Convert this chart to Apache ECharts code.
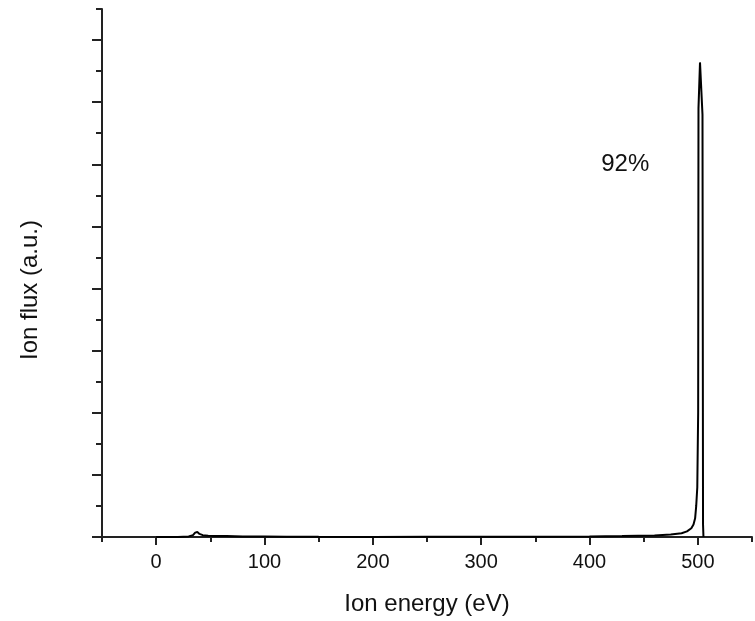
<!DOCTYPE html>
<html>
<head>
<meta charset="utf-8">
<script src="https://cdn.jsdelivr.net/npm/echarts@6/dist/echarts.min.js"></script>
<style>
  html, body { margin: 0; padding: 0; background: #fff; }
  #chart { width: 755px; height: 621px; }
</style>
</head>
<body>
<div id="chart"></div>
<script>
// Ion energy distribution measured at the substrate (energy in eV, flux in a.u.)
const energy = [0, 10, 20, 30, 34, 36, 38, 40, 43, 48, 55, 65, 80, 100, 120, 150, 200, 250, 300, 350, 400, 430, 460, 475, 485, 490, 494, 496, 497.5, 498.5, 499.5, 500.3, 500.6, 502, 504.3, 504.6, 504.8, 505.2];
const flux   = [0, 0, 0, 0.01, 0.03, 0.07, 0.08, 0.05, 0.03, 0.02, 0.015, 0.015, 0.01, 0.008, 0.005, 0.003, 0.002, 0.003, 0.004, 0.006, 0.01, 0.015, 0.025, 0.04, 0.06, 0.09, 0.14, 0.2, 0.3, 0.5, 0.8, 2.0, 6.9, 7.64, 6.8, 3.0, 0.2, 0];

// Axis ticks
const xMajorTicks = [0, 100, 200, 300, 400, 500];
const xMinorTicks = [-50, 50, 150, 250, 350, 450, 550];
const yMajorTicks = [0, 1, 2, 3, 4, 5, 6, 7, 8];
const yMinorTicks = [0.5, 1.5, 2.5, 3.5, 4.5, 5.5, 6.5, 7.5, 8.5];

// Fraction of ions in the main peak
const peakShare = '92%';
const peakLabelAt = [433, 6.0];

const FONT = '"Liberation Sans", Arial, sans-serif';
const AXIS_COLOR = '#222';

const points = energy.map((e, i) => [e, flux[i]]);

const chart = echarts.init(document.getElementById('chart'), null, { renderer: 'canvas' });

const tickStyle = { color: AXIS_COLOR, width: 2 };

chart.setOption({
  animation: false,
  backgroundColor: '#fff',
  grid: { left: 102, top: 9, width: 650, height: 529, containLabel: false },
  xAxis: [
    {
      type: 'value', min: -50, max: 550, position: 'bottom',
      name: 'Ion energy (eV)', nameLocation: 'middle', nameGap: 55,
      nameTextStyle: { fontFamily: FONT, fontSize: 24, color: '#111' },
      axisLine: { show: true, onZero: false, lineStyle: tickStyle },
      axisTick: { show: true, inside: false, length: 8, customValues: xMajorTicks, lineStyle: tickStyle },
      axisLabel: { show: true, customValues: xMajorTicks, margin: 15, fontFamily: FONT, fontSize: 20, color: '#111' },
      splitLine: { show: false }
    },
    {
      type: 'value', min: -50, max: 550, position: 'bottom',
      axisLine: { show: false, onZero: false },
      axisTick: { show: true, inside: false, length: 5, customValues: xMinorTicks, lineStyle: tickStyle },
      axisLabel: { show: false },
      splitLine: { show: false }
    }
  ],
  yAxis: [
    {
      type: 'value', min: 0, max: 8.5, position: 'left',
      name: 'Ion flux (a.u.)', nameLocation: 'middle', nameGap: 60,
      nameTextStyle: { fontFamily: FONT, fontSize: 24, color: '#111', padding: [0, 34, 0, 0] },
      axisLine: { show: true, onZero: false, lineStyle: tickStyle },
      axisTick: { show: true, inside: false, length: 10, customValues: yMajorTicks, lineStyle: tickStyle },
      axisLabel: { show: false },
      splitLine: { show: false }
    },
    {
      type: 'value', min: 0, max: 8.5, position: 'left',
      axisLine: { show: false, onZero: false },
      axisTick: { show: true, inside: false, length: 6, customValues: yMinorTicks, lineStyle: tickStyle },
      axisLabel: { show: false },
      splitLine: { show: false }
    }
  ],
  series: [
    {
      type: 'line',
      xAxisIndex: 0, yAxisIndex: 0,
      data: points,
      showSymbol: false,
      smooth: false,
      lineStyle: { color: '#000', width: 2 },
      markPoint: {
        symbol: 'circle', symbolSize: 0,
        data: [{ coord: peakLabelAt, value: peakShare }],
        label: { show: true, position: 'inside', formatter: peakShare, fontFamily: FONT, fontSize: 24, color: '#111' }
      }
    }
  ]
});
</script>
</body>
</html>
